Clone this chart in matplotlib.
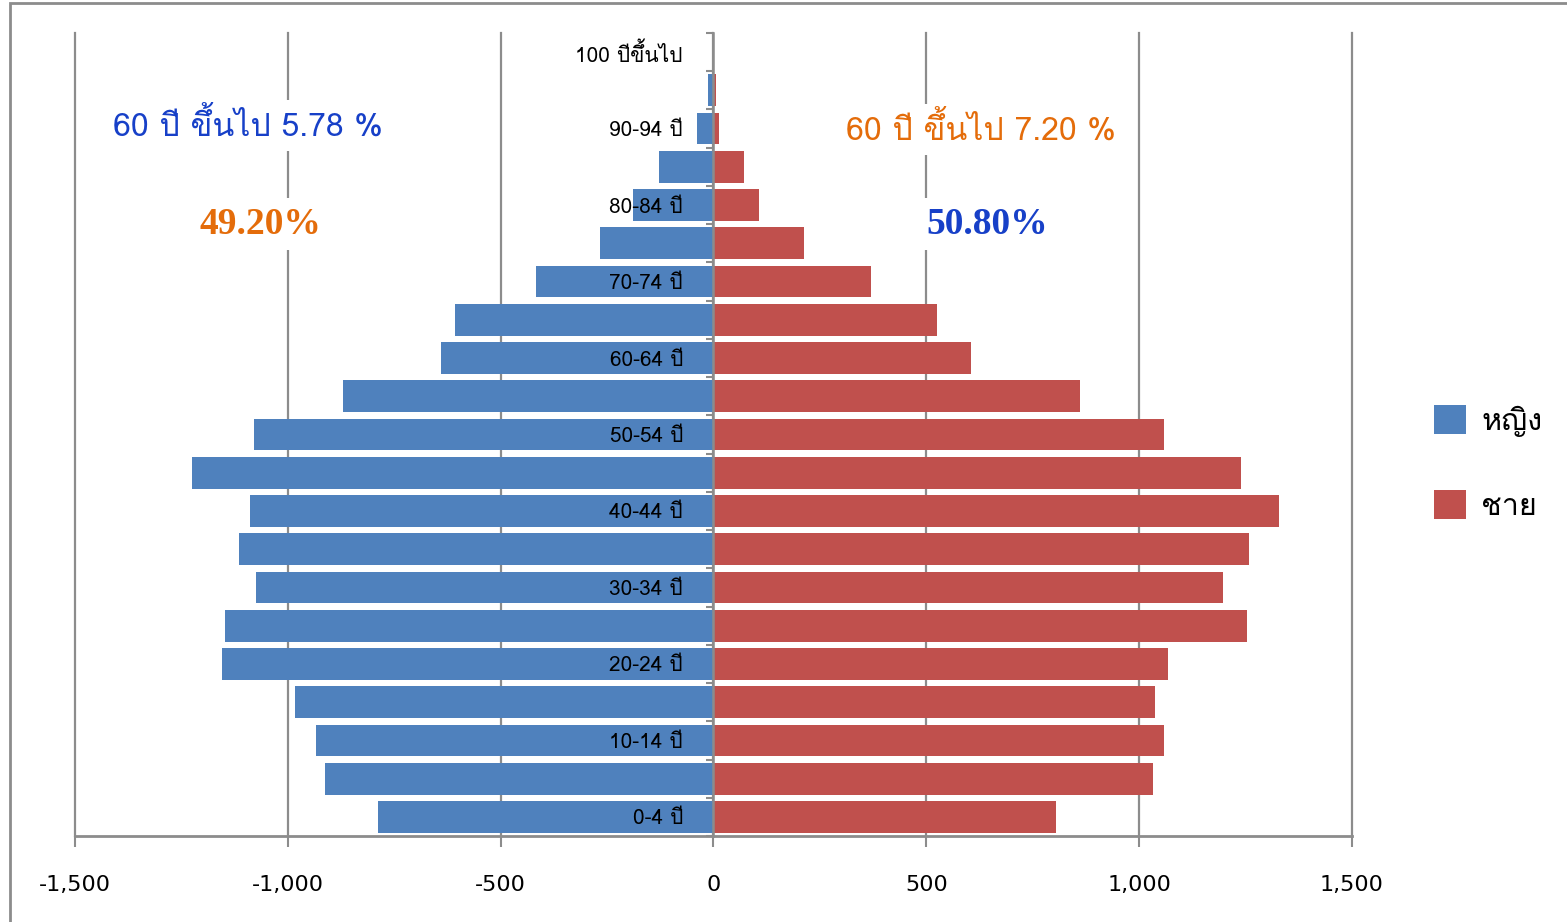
import matplotlib
matplotlib.use('Agg')
import matplotlib.pyplot as plt
import matplotlib.patches as patches
from matplotlib.ticker import FuncFormatter

# Loma วางวรรณยุกต์ซ้อนสระบนได้ถูกต้องโดยไม่ต้องใช้ shaping
THAI = ['Loma', 'DejaVu Sans']

# กลุ่มอายุ (ล่างขึ้นบน)
age_groups = ['0-4 ปี', '5-9 ปี', '10-14 ปี', '15-19 ปี', '20-24 ปี', '25-29 ปี',
              '30-34 ปี', '35-39 ปี', '40-44 ปี', '45-49 ปี', '50-54 ปี', '55-59 ปี',
              '60-64 ปี', '65-69 ปี', '70-74 ปี', '75-79 ปี', '80-84 ปี', '85-89 ปี',
              '90-94 ปี', '95-99 ปี', '100 ปีขึ้นไป']
female = [788, 912, 933, 983, 1154, 1147, 1075, 1114, 1089, 1225, 1079, 870,
          640, 607, 416, 266, 190, 127, 38, 12, 1]
male = [804, 1032, 1058, 1037, 1067, 1253, 1197, 1258, 1328, 1239, 1058, 861,
        604, 524, 369, 212, 108, 71, 14, 5, 0]
x_ticks = [-1500, -1000, -500, 0, 500, 1000, 1500]

legend_labels = ['หญิง', 'ชาย']
colors = ['#4F81BD', '#C0504D']
grid_color = '#8C8C8C'
blue_txt = '#1740C8'
orange_txt = '#E46C0A'

fig = plt.figure(figsize=(15.67, 9.22), dpi=100)
ax = fig.add_axes([75 / 1567, 1 - 836 / 922, (1352 - 75) / 1567, (836 - 33) / 922])

y = list(range(len(age_groups)))
ax.barh(y, [-v for v in female], height=0.83, color=colors[0], zorder=2)
ax.barh(y, male, height=0.83, color=colors[1], zorder=2)

ax.set_xlim(-1500, 1500)
ax.set_ylim(-0.5, len(age_groups) - 0.5)

# แกน x
ax.set_xticks(x_ticks)
ax.xaxis.set_major_formatter(FuncFormatter(lambda v, p: f'{int(v):,}'))
ax.tick_params(axis='x', direction='out', length=8, width=1.5, color=grid_color,
               pad=20, labelsize=16)
ax.grid(axis='x', color=grid_color, linewidth=1.6, zorder=0)
for gl in ax.get_xgridlines():
    gl.set_clip_on(False)
ax.set_axisbelow(True)

# แกนกลุ่มอายุอยู่ที่ศูนย์
for s in ['top', 'right']:
    ax.spines[s].set_visible(False)
ax.spines['left'].set_position(('data', 0))
ax.spines['left'].set_color(grid_color)
ax.spines['left'].set_linewidth(1.8)
ax.spines['left'].set_zorder(3)
ax.spines['bottom'].set_color(grid_color)
ax.spines['bottom'].set_linewidth(2)

ax.set_yticks(y)
ax.set_yticklabels([lab if i % 2 == 0 else '' for i, lab in enumerate(age_groups)],
                   family=THAI, fontsize=15)
ax.set_yticks([i - 0.5 for i in range(len(age_groups) + 1)], minor=True)
ax.tick_params(axis='y', which='major', length=0, pad=22)
ax.tick_params(axis='y', which='minor', length=5, width=1.5, color=grid_color)
ax.yaxis.set_zorder(5)  # ป้ายกลุ่มอายุทับแท่ง

# ข้อความสัดส่วน
box = dict(facecolor='white', edgecolor='none', pad=6)
ax.text(-1094, 18.07, '60 ปี ขึ้นไป 5.78 %', family=THAI, fontsize=23,
        color=blue_txt, ha='center', va='center', bbox=box, zorder=6)
ax.text(-1065, 15.5, '49.20%', family='Liberation Serif', fontweight='bold',
        fontsize=27, color=orange_txt, ha='center', va='center', bbox=box, zorder=6)
ax.text(627, 17.97, '60 ปี ขึ้นไป 7.20 %', family=THAI, fontsize=23,
        color=orange_txt, ha='center', va='center', bbox=box, zorder=6)
ax.text(642, 15.5, '50.80%', family='Liberation Serif', fontweight='bold',
        fontsize=27, color=blue_txt, ha='center', va='center', bbox=box, zorder=6)

# คำอธิบายสี
handles = [patches.Patch(facecolor=c, edgecolor='none', label=l)
           for c, l in zip(colors, legend_labels)]
fig.legend(handles=handles, loc='center left', bbox_to_anchor=(1434 / 1567, 1 - 463 / 922),
           frameon=False, prop={'family': THAI, 'size': 22}, handlelength=1.05,
           handleheight=1.05, handletextpad=0.5, labelspacing=1.75,
           borderpad=0, borderaxespad=0)

# กรอบรอบแผนภูมิ
fig.add_artist(patches.Rectangle((10 / 1567, -0.05), 1.2, 1.05 - 3 / 922,
                                 transform=fig.transFigure, fill=False,
                                 edgecolor='#8C8C8C', linewidth=2))

fig.savefig('out.png', dpi=100, facecolor='white')
